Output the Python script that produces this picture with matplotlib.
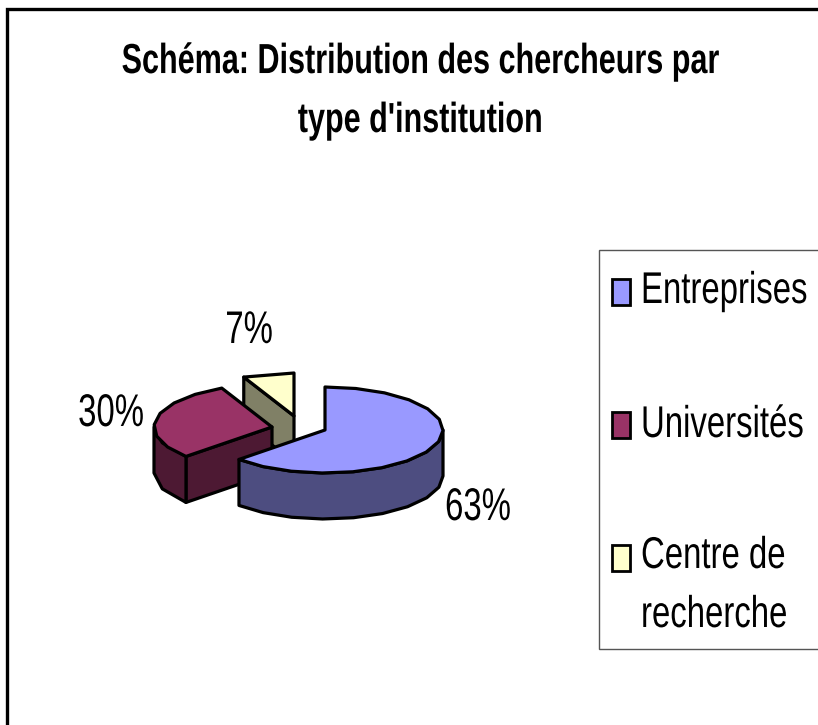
import matplotlib
matplotlib.use("Agg")
import matplotlib.pyplot as plt
import numpy as np
from matplotlib.patches import Polygon, Rectangle
from matplotlib.patheffects import AbstractPathEffect
from matplotlib.transforms import Affine2D

# data
categories = ["Entreprises", "Universités", "Centre de\nrecherche"]
values = [63, 30, 7]
value_labels = ["63%", "30%", "7%"]
top_colors = ["#9999FF", "#993366", "#FFFFCC"]
side_colors = ["#4D4D80", "#4D1933", "#808066"]

title = "Schéma: Distribution des chercheurs par\ntype d'institution"

# layout in pixels
centers = [(325, 430), (272, 427), (294, 416)]
label_pos = [(478, 520), (111, 426), (249, 343)]
legend_y = [292, 425, 558]
legend_text_y = [303, 437, 627]
RX, RY, DEPTH = 118, 43, 46
LW = 2.3
FONT = "Liberation Sans"


class Stretch(AbstractPathEffect):
    # the original font is a narrow one, none is installed here,
    # so a smaller size gets pulled up to the right height
    def __init__(self, y0, sy):
        super().__init__()
        self.tr = Affine2D().translate(0, -y0).scale(1, sy).translate(0, y0)

    def draw_path(self, renderer, gc, tpath, affine, rgbFace=None):
        renderer.draw_path(gc, tpath, affine + self.tr, rgbFace)


def tall_text(ax, x, y, s, sy, **kw):
    t = ax.text(x, y, s, family=FONT, va="baseline", **kw)
    t.set_path_effects([Stretch(ax.transData.transform((x, y))[1], sy)])
    return t


def arc(cx, cy, a0, a1):
    # coarse steps, the original curve is visibly faceted
    n = max(2, int(abs(a1 - a0) / 15) + 1)
    t = np.radians(np.linspace(a0, a1, n))
    return np.column_stack([cx + RX * np.cos(t), cy - RY * np.sin(t)])


def add_poly(ax, pts, color):
    ax.add_patch(Polygon(pts, closed=True, facecolor=color, edgecolor="black",
                         linewidth=LW, joinstyle="round"))


def draw_slice(ax, center, low, high, top, side):
    cx, cy = center
    down = np.array([0, DEPTH])
    # cut faces
    for ang, normal in [(low, low - 90), (high, high + 90)]:
        if np.sin(np.radians(normal)) < -1e-6:
            edge = arc(cx, cy, ang, ang)[:1]
            pts = np.array([[cx, cy], edge[0], edge[0] + down, [cx, cy + DEPTH]])
            add_poly(ax, pts, side)
    # outer wall, only the part facing the viewer
    for w0, w1 in [(-180, 0), (180, 360)]:
        a0, a1 = max(low, w0), min(high, w1)
        if a1 > a0:
            rim = arc(cx, cy, a0, a1)
            add_poly(ax, np.vstack([rim, rim[::-1] + down]), side)
    rim = arc(cx, cy, low, high)
    add_poly(ax, np.vstack([[cx, cy], rim]), top)


fig = plt.figure(figsize=(8.18, 7.25), dpi=100)
ax = fig.add_axes([0, 0, 1, 1])
ax.set_xlim(0, 818)
ax.set_ylim(725, 0)
ax.axis("off")

# outer frame runs off the right and bottom of the picture
ax.add_patch(Rectangle((6.5, 8.5), 900, 900, facecolor="white",
                       edgecolor="black", linewidth=2.4))

tall_text(ax, 420, 132, title, 1.375, weight="bold", fontsize=22, ha="center",
          linespacing=1.56)

# slices go clockwise from 12 o'clock
angles = 90 - 3.6 * np.cumsum([0] + values)
for i in range(len(values) - 1, -1, -1):
    draw_slice(ax, centers[i], angles[i + 1], angles[i], top_colors[i], side_colors[i])

for (x, y), lab in zip(label_pos, value_labels):
    tall_text(ax, x, y, lab, 1.39, fontsize=23.7, ha="center")

# legend box
ax.add_patch(Rectangle((599, 250), 300, 399, facecolor="white",
                       edgecolor="#555555", linewidth=1))
for y, ty, cat, col in zip(legend_y, legend_text_y, categories, top_colors):
    ax.add_patch(Rectangle((612, y - 13), 18, 26, facecolor=col, edgecolor="black",
                           linewidth=2))
    tall_text(ax, 641, ty, cat, 1.35, fontsize=23.7, ha="left", linespacing=1.53)

fig.savefig("out.png", dpi=100)
